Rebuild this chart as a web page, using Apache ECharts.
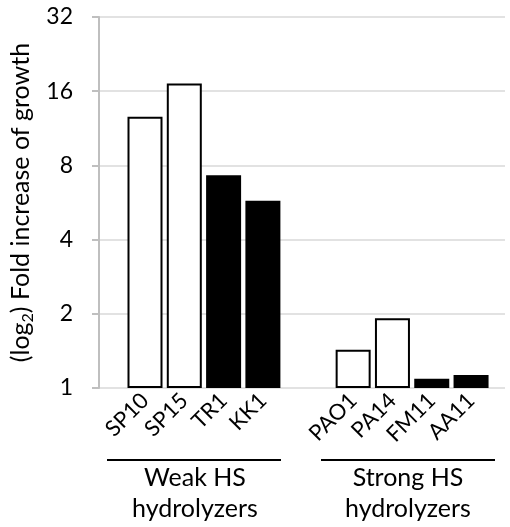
<!DOCTYPE html>
<html><head><meta charset="utf-8">
<script src="https://cdn.jsdelivr.net/npm/echarts@6/dist/echarts.min.js"></script>
<style>html,body{margin:0;padding:0;background:#fff}#c{width:510px;height:527px}</style>
</head><body><div id="c"></div>
<script>
const weakStrains = ['SP10', 'SP15', 'TR1', 'KK1'];
const weakValues = [12.6, 17.2, 7.3, 5.75];
const weakFill = ['white', 'white', 'black', 'black'];
const strongStrains = ['PAO1', 'PA14', 'FM11', 'AA11'];
const strongValues = [1.43, 1.92, 1.09, 1.13];
const strongFill = ['white', 'white', 'black', 'black'];
const groupLabels = ['Weak HS\nhydrolyzers', 'Strong HS\nhydrolyzers'];
const yTicks = [1, 2, 4, 8, 16, 32];

const FONT = 'Lato';
const gTop = 17, gBottom = 139;
const chart = echarts.init(document.getElementById('c'), null, {renderer: 'canvas'});

function yHidden(gi) {
  return {type: 'log', logBase: 2, min: yTicks[0], max: yTicks[yTicks.length - 1], gridIndex: gi, show: false};
}
function xCat(gi, cats) {
  return {
    type: 'category', data: cats, gridIndex: gi,
    axisLine: {show: false}, axisTick: {show: false},
    axisLabel: {rotate: 45, fontFamily: FONT, fontSize: 22, color: '#000', margin: 9, interval: 0}
  };
}
function barSeries(gi, vals, fills) {
  return {
    type: 'bar', xAxisIndex: gi, yAxisIndex: gi, barWidth: 35,
    data: vals.map((v, i) => ({value: v, itemStyle: {color: fills[i], borderColor: '#000', borderWidth: 2}})),
    silent: true, animation: false
  };
}

chart.setOption({
  animation: false,
  grid: [
    {left: 99, right: 5, top: gTop, bottom: gBottom},
    {left: 125.35, width: 157.2, top: gTop, bottom: gBottom},
    {left: 333.5, width: 157.2, top: gTop, bottom: gBottom}
  ],
  xAxis: [
    {type: 'category', gridIndex: 0, data: [''], show: false},
    xCat(1, weakStrains),
    xCat(2, strongStrains)
  ],
  yAxis: [
    {
      type: 'log', logBase: 2, gridIndex: 0, min: yTicks[0], max: yTicks[yTicks.length - 1], interval: 1,
      name: '{a|(log}{s|2}{a|) Fold increase of growth}',
      nameLocation: 'middle', nameGap: 55,
      nameTextStyle: {
        rich: {
          a: {fontFamily: FONT, fontSize: 25, color: '#000'},
          s: {fontFamily: FONT, fontSize: 16, color: '#000', padding: [12, 0, 0, 0]}
        }
      },
      axisLine: {show: true, lineStyle: {color: '#bfbfbf', width: 2}},
      axisTick: {show: true, length: 7, lineStyle: {color: '#bfbfbf', width: 2}},
      axisLabel: {fontFamily: FONT, fontSize: 23, color: '#000', margin: 26},
      splitLine: {show: true, lineStyle: {color: '#d9d9d9', width: 1.5}}
    },
    yHidden(1),
    yHidden(2)
  ],
  series: [
    barSeries(1, weakValues, weakFill),
    barSeries(2, strongValues, strongFill)
  ],
  graphic: [
    {type: 'line', shape: {x1: 107, y1: 460, x2: 281, y2: 460}, style: {stroke: '#000', lineWidth: 2}},
    {type: 'line', shape: {x1: 321, y1: 460, x2: 495, y2: 460}, style: {stroke: '#000', lineWidth: 2}},
    {type: 'text', x: 195, y: 493, style: {text: groupLabels[0], fontFamily: FONT, fontSize: 25, lineHeight: 31, fill: '#000', align: 'center', verticalAlign: 'middle'}},
    {type: 'text', x: 408, y: 493, style: {text: groupLabels[1], fontFamily: FONT, fontSize: 25, lineHeight: 31, fill: '#000', align: 'center', verticalAlign: 'middle'}}
  ]
});
</script></body></html>
